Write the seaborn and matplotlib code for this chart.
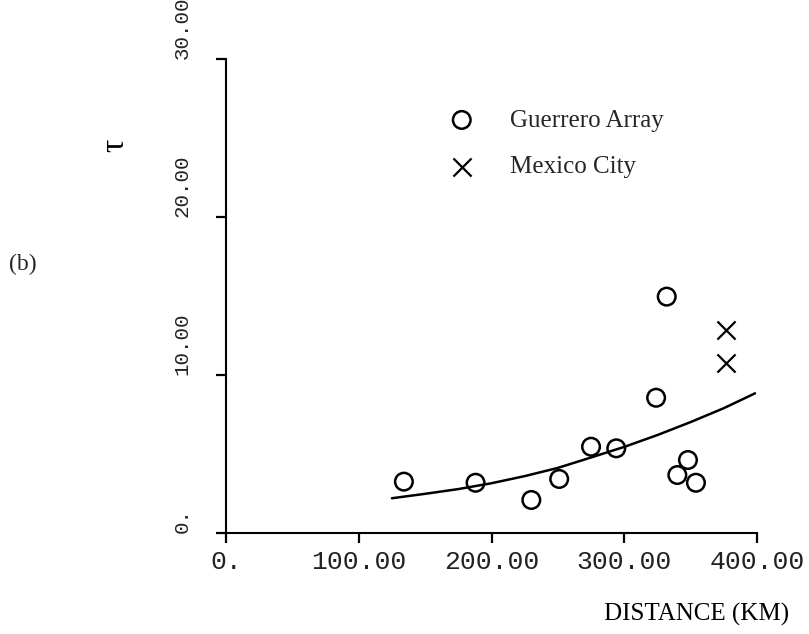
import numpy as np
import pandas as pd
import matplotlib
matplotlib.use("Agg")
import matplotlib.pyplot as plt
import seaborn as sns

# Guerrero Array stations: epicentral distance (km) and tau
guerrero_dist = [134, 188, 230, 251, 275, 294, 324, 332, 340, 348, 354]
guerrero_tau = [3.25, 3.18, 2.09, 3.42, 5.46, 5.36, 8.56, 14.96, 3.67, 4.62, 3.18]

# Mexico City stations
mexico_dist = [377, 377]
mexico_tau = [12.85, 10.74]

# Fitted trend curve
curve_dist = [125, 150, 175, 200, 225, 250, 275, 300, 325, 350, 375, 398.5]
curve_tau = [2.20, 2.48, 2.78, 3.15, 3.60, 4.12, 4.78, 5.45, 6.20, 7.02, 7.90, 8.84]

x_ticks = [0, 100, 200, 300, 400]
x_tick_labels = ["0.", "100.00", "200.00", "300.00", "400.00"]
y_ticks = [0, 10, 20, 30]
y_tick_labels = ["0.", "10.00", "20.00", "30.00"]

sns.set_theme(style="ticks")
plt.rcParams["font.family"] = ["Liberation Serif", "DejaVu Serif"]

W, H = 809, 634
fig = plt.figure(figsize=(W / 100, H / 100), dpi=100)
x0, x1, y0, y1 = 226, 757, 533, 59
ax = fig.add_axes([x0 / W, 1 - y0 / H, (x1 - x0) / W, (y0 - y1) / H])

g_df = pd.DataFrame({"dist": guerrero_dist, "tau": guerrero_tau})
m_df = pd.DataFrame({"dist": mexico_dist, "tau": mexico_tau})
c_df = pd.DataFrame({"dist": curve_dist, "tau": curve_tau})

sns.lineplot(data=c_df, x="dist", y="tau", color="black", linewidth=1.8,
             ax=ax, legend=False)
sns.scatterplot(data=g_df, x="dist", y="tau", marker="o", s=160,
                color="black", linewidth=1.8, ax=ax, label="Guerrero Array")
ax.collections[-1].set_facecolor("none")
ax.collections[-1].set_edgecolor("black")
sns.scatterplot(data=m_df, x="dist", y="tau", marker="x", s=170,
                color="black", linewidth=1.6, ax=ax, label="Mexico City")

ax.set_xlim(0, 400)
ax.set_ylim(0, 30)
sns.despine(ax=ax)
for side in ("left", "bottom"):
    ax.spines[side].set_linewidth(1.5)
    ax.spines[side].set_color("black")

mono = "Liberation Mono"
ax.set_xticks(x_ticks)
ax.set_xticklabels(x_tick_labels, family=mono, fontsize=19, color="#222222")
ax.set_yticks(y_ticks)
ax.set_yticklabels(y_tick_labels, family=mono, fontsize=15, color="#222222",
                   rotation=90, va="bottom")
ax.tick_params(axis="x", direction="out", length=7, width=1.6, pad=5, colors="black")
ax.tick_params(axis="y", direction="out", length=7, width=1.6, pad=18, colors="black")
for lab in ax.get_xticklabels() + ax.get_yticklabels():
    lab.set_color("#222222")

ax.set_xlabel("DISTANCE (KM)", fontsize=18, color="black")
ax.xaxis.set_label_coords((697 - x0) / (x1 - x0), (y0 - 614) / (y0 - y1))
ax.xaxis.label.set_va("center")
ax.set_ylabel("τ", fontsize=24, color="black", rotation=90)
ax.yaxis.set_label_coords((115 - x0) / (x1 - x0), (y0 - 145) / (y0 - y1))
ax.yaxis.label.set_va("center")
ax.yaxis.label.set_ha("center")

fig.text(23 / W, 1 - 264 / H, "(b)", fontsize=17, ha="center", va="center")

leg = ax.legend(loc="upper left", bbox_to_anchor=(443 / W, 1 - 109 / H),
                bbox_transform=fig.transFigure, frameon=False, fontsize=18,
                handlelength=1.5, handletextpad=1.2, labelspacing=0.98,
                borderpad=0, borderaxespad=0)

fig.savefig("out.png", dpi=100, facecolor="white")
